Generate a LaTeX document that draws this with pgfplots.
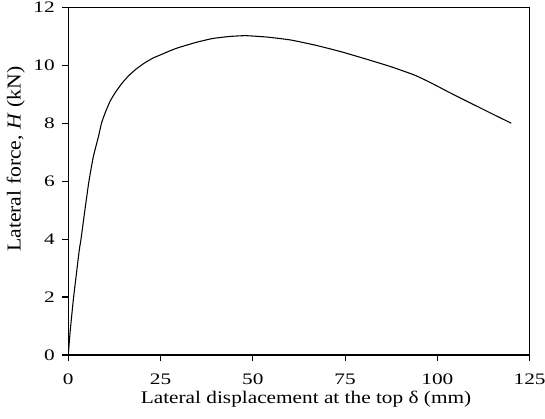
\documentclass[border=0pt]{standalone}
\usepackage{fontspec}
\setmainfont{Liberation Serif}
\newfontfamily\tickfont[FakeStretch=1.33]{Liberation Serif}
\newfontfamily\xlabfont[FakeStretch=1.2]{Liberation Serif}
\newfontfamily\ylabfont[FakeStretch=1.1]{Liberation Serif}
\usepackage{pgfplots}
\pgfplotsset{compat=1.18}
\begin{document}
\begin{tikzpicture}
\begin{axis}[
  name=ax,
  scale only axis,
  width=346pt, height=260.8pt,
  xmin=0, xmax=125, ymin=0, ymax=12,
  xtick={0,25,50,75,100,125},
  ytick={0,2,4,6,8,10,12},
  tick align=outside,
  tick pos=left,
  major tick length=4.5pt,
  axis line style={line width=0.9pt},
  every tick/.style={line width=0.9pt, black},
  /pgf/number format/assume math mode=true,
  ticklabel style={font=\tickfont\fontsize{12}{14}\selectfont, inner sep=0pt},
  yticklabel style={anchor=east, xshift=-5.5pt},
  xticklabel style={anchor=north, yshift=-9.75pt},
  xlabel={\xlabfont\fontsize{13.3}{15}\selectfont Lateral displacement at the top δ (mm)},
  ylabel={\ylabfont\fontsize{14.8}{16}\selectfont Lateral force, \textit{H} (kN)},
  xlabel style={at={(axis description cs:0.5152,-0.138)}, anchor=base, inner sep=0pt},
  ylabel style={at={(axis description cs:-0.1032,0.5633)}, anchor=base, inner sep=0pt},
]
\addplot[black, line width=0.8pt, smooth, tension=0.3] coordinates {
(0,0) (0.5,0.8) (1.36,1.9) (2.2,2.8) (2.99,3.63) (3.45,4.0) (4.5,5.0) (5.6,6.0) (6.8,6.85) (8.2,7.55) (9.0,8.0) (10.0,8.36) (11.3,8.75) (12.7,9.05) (14.5,9.37) (16.3,9.63) (18.5,9.88) (20.8,10.09) (23,10.25) (25.4,10.38) (27.6,10.5) (29.9,10.61) (34.4,10.78) (39.0,10.92) (43.5,10.99) (48.0,11.02) (54,10.97) (60.3,10.87) (67,10.69) (73.8,10.47) (80.5,10.22) (87.4,9.95) (93.8,9.66) (98.3,9.39) (102.8,9.09) (107.3,8.8) (111.9,8.51) (116,8.25) (120,8.0)
};
\end{axis}
\pgfresetboundingbox
\path ([xshift=-51.2pt, yshift=-47.25pt]ax.south west) rectangle ([xshift=357.5pt, yshift=266.25pt]ax.south west);
\end{tikzpicture}
\end{document}
